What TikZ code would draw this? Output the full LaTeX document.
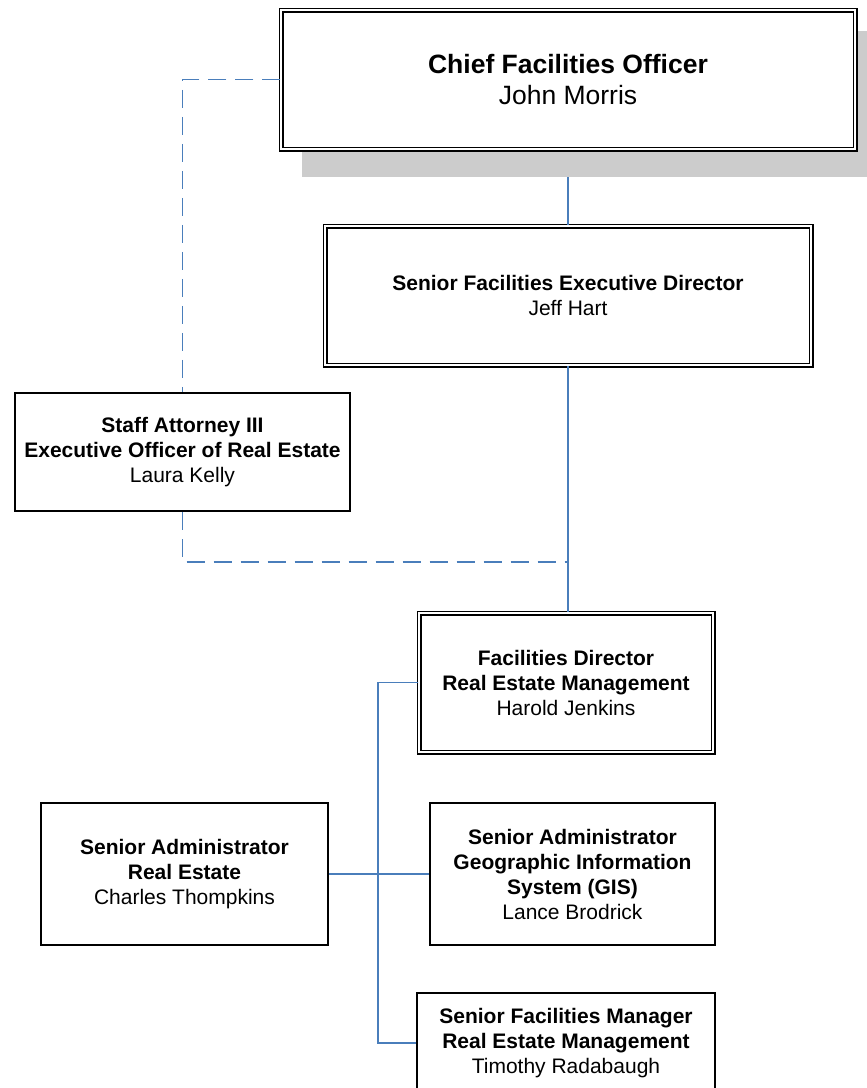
\documentclass[tikz,border=0pt]{standalone}
\usepackage{fontspec}
\setmainfont{Liberation Sans}
\usetikzlibrary{calc}
\definecolor{linkblue}{HTML}{4A7EBB}
\definecolor{shadowgray}{HTML}{CCCCCC}
\begin{document}
\begin{tikzpicture}[x=1pt,y=-1pt,
  box/.style={draw=black, fill=white, line width=2pt, align=center, inner sep=0pt,
              font=\fontsize{21}{25}\selectfont},
  dbox/.style={box, double=white, double distance=2pt, line width=1.5pt},
  shadowbox/.style={fill=shadowgray, inner sep=0pt},
  link/.style={draw=linkblue, line width=1.8pt},
  dlink/.style={link, dash pattern=on 18pt off 9pt}]
\useasboundingbox (0,0) rectangle (867,1088);
\begin{scope}
\clip (0,0) rectangle (867,1088);
% shadow of the top box
\node[shadowbox, minimum width=580pt, minimum height=146pt] (chiefshadow) at (592,104) {};
% boxes
\node[dbox, minimum width=574pt, minimum height=139pt, font=\fontsize{26.5}{31}\selectfont]
  (chief) at (568,79.5) {\textbf{Chief Facilities Officer}\\John Morris};
\node[dbox, minimum width=486pt, minimum height=139pt]
  (exec) at (568,295.5) {\textbf{Senior Facilities Executive Director}\\Jeff Hart};
\node[box, minimum width=335pt, minimum height=118pt]
  (staff) at (182.5,452) {\textbf{Staff Attorney III}\\\textbf{Executive Officer of Real Estate}\\Laura Kelly};
\node[dbox, minimum width=294pt, minimum height=139pt]
  (facdir) at (566,682.5) {\textbf{Facilities Director}\\\textbf{Real Estate Management}\\Harold Jenkins};
\node[box, minimum width=287pt, minimum height=142pt]
  (re) at (184.5,874) {\textbf{Senior Administrator}\\\textbf{Real Estate}\\Charles Thompkins};
\node[box, minimum width=285pt, minimum height=142pt]
  (gis) at (572.5,874) {\textbf{Senior Administrator}\\\textbf{Geographic Information}\\\textbf{System (GIS)}\\Lance Brodrick};
\node[box, minimum width=298pt, minimum height=100pt]
  (mgr) at (566,1043) {\textbf{Senior Facilities Manager}\\\textbf{Real Estate Management}\\Timothy Radabaugh};
% connectors
\coordinate (j) at (568,562);
\draw[link] (chief.south |- chiefshadow.south) -- (exec.north);
\draw[link] (exec.south) -- (exec.south |- facdir.north);
\draw[dlink] (chief.west) -| (staff.north);
\draw[dlink] (staff.south) |- (j);
\draw[link] (facdir.west) -- ++(-40,0) |- (mgr.west);
\draw[link] (re.east) -- (gis.west);
\end{scope}
\end{tikzpicture}
\end{document}
